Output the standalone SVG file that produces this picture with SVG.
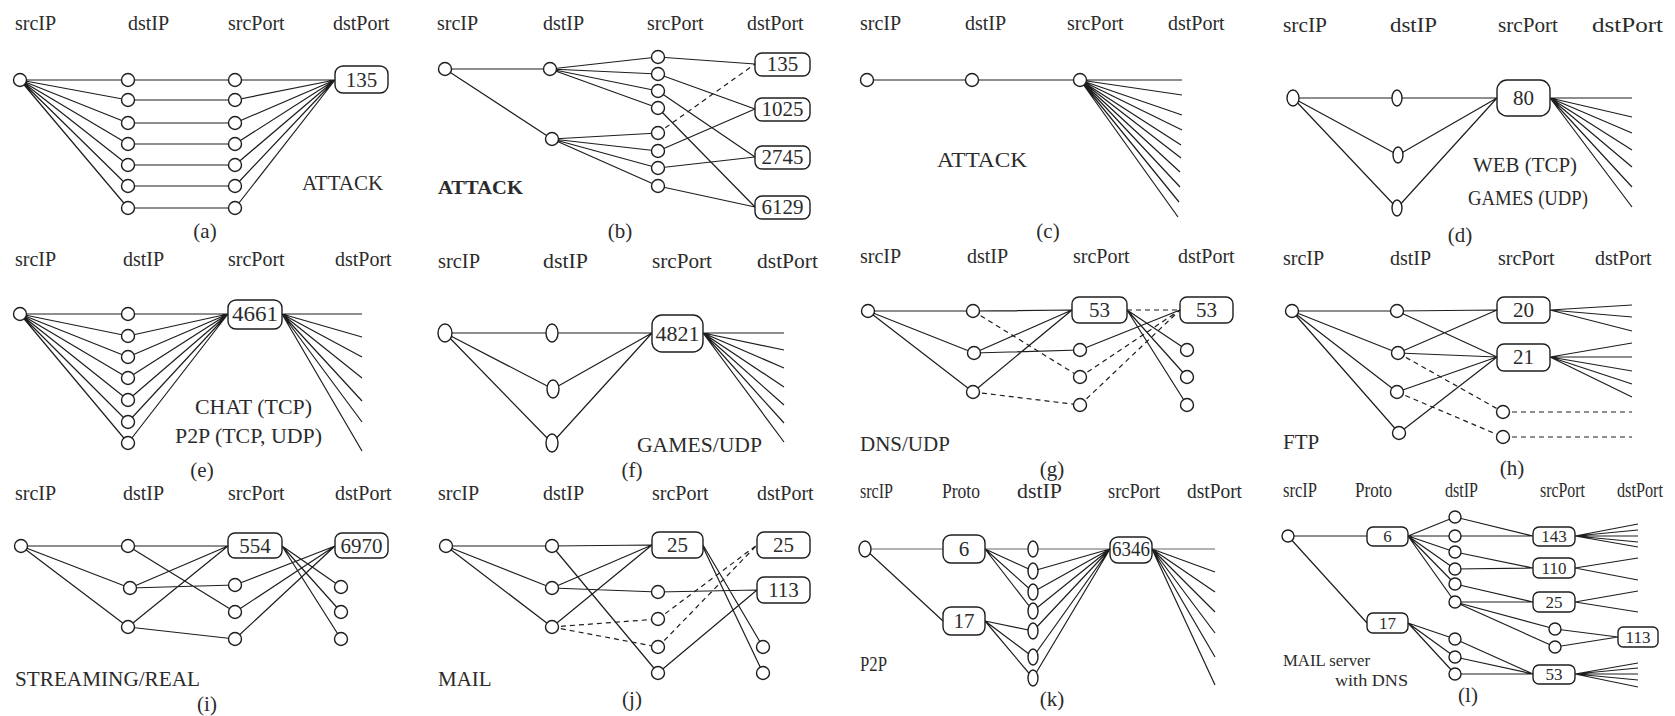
<svg xmlns="http://www.w3.org/2000/svg" width="1675" height="716" viewBox="0 0 1675 716">
<style>
text{font-family:"Liberation Serif","Times New Roman",serif;fill:#2b2b2b}
.h{font-size:20px}
.lb{font-size:21px}
.cap{font-size:21px;text-anchor:middle}
.bt{font-size:21px;text-anchor:middle}
.sm{font-size:17px;text-anchor:middle}
.s{stroke:#1e1e1e;stroke-width:1.2;fill:none}
.g{stroke:#999;stroke-width:1.3;fill:none}
.d{stroke:#1e1e1e;stroke-width:1.2;fill:none;stroke-dasharray:5 4}
.n{fill:#fff;stroke:#1e1e1e;stroke-width:1.4}
.bx{fill:#fff;stroke:#1e1e1e;stroke-width:1.4}
</style>
<rect width="1675" height="716" fill="#fff"/>

<g id="connectors">
 <g id="edges-a">
  <path class="s" d="M20 80L128 80M20 80L128 100M20 80L128 123M20 80L128 144M20 80L128 165M20 80L128 186M20 80L128 208M128 80H235M128 100H235M128 123H235M128 144H235M128 165H235M128 186H235M128 208H235M235 80H335M235 100L335 80M235 123L335 80M235 144L335 80M235 165L335 80M235 186L335 80M235 208L335 80"/>
 </g>
 <g id="edges-b">
  <path class="s" d="M445 69L550 69M445 69L552 139M550 69L658 57M550 69L658 74M550 69L658 91M550 69L658 108M552 139L658 133M552 139L658 151M552 139L658 168M552 139L658 186M658 57L755 64M658 74L755 109M658 91L755 157M658 108L755 207M658 151L755 109M658 168L755 157M658 186L755 207"/>
  <path class="d" d="M658 133L755 64"/>
 </g>
 <g id="edges-c">
  <path class="s" d="M867 80H1080M1080 80L1182 80M1080 80L1182 95M1080 80L1182 115M1080 80L1182 130M1080 80L1181 145M1080 80L1181 158M1080 80L1180 172M1080 80L1180 187M1080 80L1179 202M1080 80L1178 217"/>
 </g>
 <g id="edges-d">
  <path class="s" d="M1293 98L1397 98M1293 98L1398 155M1293 98L1397 208M1397 98L1497 98M1398 155L1497 98M1397 208L1497 98M1550 98L1632 98M1550 98L1632 117M1550 98L1632 133M1550 98L1632 150M1550 98L1632 167M1550 98L1632 187M1550 98L1632 207"/>
 </g>
 <g id="edges-e">
  <path class="s" d="M20 314L128 314M20 314L128 336M20 314L128 357M20 314L128 378M20 314L128 400M20 314L128 422M20 314L128 443M128 314L228 314M128 336L228 314M128 357L228 314M128 378L228 314M128 400L228 314M128 422L228 314M128 443L228 314M282 314L362 314M282 314L362 337M282 314L362 357M282 314L362 378M282 314L362 401M282 314L362 422M282 314L362 451"/>
 </g>
 <g id="edges-f">
  <path class="s" d="M445 333L552 333M445 333L553 389M445 333L552 443M552 333L652 333M553 389L652 333M552 443L652 333M703 333L784 333M703 333L784 350M703 333L784 368M703 333L784 387M703 333L784 405M703 333L784 423M703 333L784 442"/>
 </g>
 <g id="edges-g">
  <path class="s" d="M868 311L973 311M868 311L974 353M868 311L973 392M973 311L1072 310M974 353L1072 310M974 353L1080 350M973 392L1072 310M1080 350L1180 310M1127 310L1187 350M1127 310L1187 377M1127 310L1187 405"/>
  <path class="d" d="M973 311L1080 377M973 392L1080 405M1127 310L1180 310M1080 377L1180 310M1080 405L1180 310"/>
 </g>
 <g id="edges-h">
  <path class="s" d="M1292 311L1397 311M1292 311L1398 353M1292 311L1397 392M1292 311L1399 433M1397 311L1497 310M1397 311L1497 357M1398 353L1497 310M1398 353L1497 357M1397 392L1497 357M1399 433L1497 357M1550 310L1632 305M1550 310L1632 317M1550 310L1632 331M1550 357L1632 343M1550 357L1632 357M1550 357L1632 371M1550 357L1632 384M1550 357L1632 397"/>
  <path class="d" d="M1398 353L1503 412M1397 392L1503 437M1503 412H1632M1503 437H1632"/>
 </g>
 <g id="edges-i">
  <path class="s" d="M21 546L128 546M21 546L130 588M21 546L128 627M128 546L228 546M128 546L235 612M130 588L228 546M130 588L235 585M128 627L228 546M128 627L235 639M235 585L335 546M235 612L335 546M235 639L335 546M282 546L341 587M282 546L341 612M282 546L341 639"/>
 </g>
 <g id="edges-j">
  <path class="s" d="M446 546L552 546M446 546L552 588M446 546L552 627M552 546L652 545M552 546L658 673M552 588L652 545M552 588L658 592M552 627L652 545M658 592L757 590M658 673L757 590M703 545L763 647M703 547L763 673"/>
  <path class="d" d="M552 627L658 619M552 627L658 647M658 619L757 545M658 647L757 545"/>
 </g>
 <g id="edges-k">
  <path class="g" d="M865 549L943 549M985 549L1033 549M1033 549L1110 549M1152 549L1215 549"/>
  <path class="s" d="M865 549L943 621M985 549L1033 571M985 549L1033 592M985 549L1033 611M985 621L1033 631M985 621L1033 657M985 621L1033 678M1033 571L1110 549M1033 592L1110 549M1033 611L1110 549M1033 631L1110 549M1033 657L1110 549M1033 678L1110 549M1152 549L1215 572M1152 549L1215 592M1152 549L1215 612M1152 549L1215 633M1152 549L1215 657M1152 549L1215 685"/>
 </g>
 <g id="edges-l">
  <path class="s" d="M1288 536L1367 536M1288 536L1367 623M1408 536L1455 517M1408 536L1455 536M1408 536L1455 552M1408 536L1455 569M1408 536L1455 584M1408 536L1455 602M1408 623L1455 639M1408 623L1455 657M1408 623L1455 674M1455 517L1533 536M1455 536L1533 536M1455 552L1533 568M1455 569L1533 568M1455 584L1533 602M1455 602L1533 602M1455 602L1555 629M1455 602L1555 647M1555 629L1618 637M1555 647L1618 637M1455 639L1533 674M1455 657L1533 674M1455 674L1533 674M1575 536L1638 524M1575 536L1638 530M1575 536L1638 536M1575 536L1638 542M1575 536L1638 547M1575 568L1638 558M1575 568L1638 580M1575 602L1638 591M1575 602L1638 612M1575 674L1638 663M1575 674L1638 668M1575 674L1638 674M1575 674L1638 680M1575 674L1638 687"/>
 </g>
</g>

<!-- Panel a -->
<g id="panel-a">
 <text class="h" x="15" y="30">srcIP</text><text class="h" x="128" y="30">dstIP</text><text class="h" x="228" y="30">srcPort</text><text class="h" x="333" y="30">dstPort</text>
 <g id="a-src"><circle class="n" cx="20" cy="80" r="6.5"/></g>
 <g id="a-d1"><circle class="n" cx="128" cy="80" r="6.5"/></g>
 <g id="a-d2"><circle class="n" cx="128" cy="100" r="6.5"/></g>
 <g id="a-d3"><circle class="n" cx="128" cy="123" r="6.5"/></g>
 <g id="a-d4"><circle class="n" cx="128" cy="144" r="6.5"/></g>
 <g id="a-d5"><circle class="n" cx="128" cy="165" r="6.5"/></g>
 <g id="a-d6"><circle class="n" cx="128" cy="186" r="6.5"/></g>
 <g id="a-d7"><circle class="n" cx="128" cy="208" r="6.5"/></g>
 <g id="a-p1"><circle class="n" cx="235" cy="80" r="6.5"/></g>
 <g id="a-p2"><circle class="n" cx="235" cy="100" r="6.5"/></g>
 <g id="a-p3"><circle class="n" cx="235" cy="123" r="6.5"/></g>
 <g id="a-p4"><circle class="n" cx="235" cy="144" r="6.5"/></g>
 <g id="a-p5"><circle class="n" cx="235" cy="165" r="6.5"/></g>
 <g id="a-p6"><circle class="n" cx="235" cy="186" r="6.5"/></g>
 <g id="a-p7"><circle class="n" cx="235" cy="208" r="6.5"/></g>
 <g id="a-135"><rect class="bx" x="335" y="66" width="53" height="27" rx="8"/><text class="bt" x="361.5" y="87">135</text></g>
 <text class="lb" x="302" y="190">ATTACK</text>
 <text class="cap" x="205" y="238">(a)</text>
</g>

<!-- Panel b -->
<g id="panel-b">
 <text class="h" x="437" y="30">srcIP</text><text class="h" x="543" y="30">dstIP</text><text class="h" x="647" y="30">srcPort</text><text class="h" x="747" y="30">dstPort</text>
 <g id="b-src"><circle class="n" cx="445" cy="69" r="6.5"/></g>
 <g id="b-d1"><circle class="n" cx="550" cy="69" r="6.5"/></g>
 <g id="b-d2"><circle class="n" cx="552" cy="139" r="6.5"/></g>
 <g id="b-p1"><circle class="n" cx="658" cy="57" r="6.5"/></g>
 <g id="b-p2"><circle class="n" cx="658" cy="74" r="6.5"/></g>
 <g id="b-p3"><circle class="n" cx="658" cy="91" r="6.5"/></g>
 <g id="b-p4"><circle class="n" cx="658" cy="108" r="6.5"/></g>
 <g id="b-p5"><circle class="n" cx="658" cy="133" r="6.5"/></g>
 <g id="b-p6"><circle class="n" cx="658" cy="151" r="6.5"/></g>
 <g id="b-p7"><circle class="n" cx="658" cy="168" r="6.5"/></g>
 <g id="b-p8"><circle class="n" cx="658" cy="186" r="6.5"/></g>
 <g id="b-135"><rect class="bx" x="755" y="53" width="55" height="23" rx="7"/><text class="bt" x="782.5" y="71">135</text></g>
 <g id="b-1025"><rect class="bx" x="755" y="98" width="55" height="23" rx="7"/><text class="bt" x="782.5" y="116">1025</text></g>
 <g id="b-2745"><rect class="bx" x="755" y="146" width="55" height="23" rx="7"/><text class="bt" x="782.5" y="164">2745</text></g>
 <g id="b-6129"><rect class="bx" x="755" y="196" width="55" height="23" rx="7"/><text class="bt" x="782.5" y="214">6129</text></g>
 <text x="438" y="194" font-size="18" font-weight="bold" textLength="85" lengthAdjust="spacingAndGlyphs">ATTACK</text>
 <text class="cap" x="620" y="238">(b)</text>
</g>

<!-- Panel c -->
<g id="panel-c">
 <text class="h" x="860" y="30">srcIP</text><text class="h" x="965" y="30">dstIP</text><text class="h" x="1067" y="30">srcPort</text><text class="h" x="1168" y="30">dstPort</text>
 <g id="c-src"><circle class="n" cx="867" cy="80" r="6.5"/></g>
 <g id="c-d1"><circle class="n" cx="972" cy="80" r="6.5"/></g>
 <g id="c-p1"><circle class="n" cx="1080" cy="80" r="6.5"/></g>
 <text class="lb" x="937" y="167" font-size="22" textLength="90" lengthAdjust="spacingAndGlyphs">ATTACK</text>
 <text class="cap" x="1048" y="238">(c)</text>
</g>

<!-- Panel d -->
<g id="panel-d">
 <text class="h" x="1283" y="32" font-size="22" textLength="44" lengthAdjust="spacingAndGlyphs">srcIP</text><text class="h" x="1390" y="32" font-size="22" textLength="47" lengthAdjust="spacingAndGlyphs">dstIP</text><text class="h" x="1498" y="32" font-size="22" textLength="60" lengthAdjust="spacingAndGlyphs">srcPort</text><text class="h" x="1592" y="32" font-size="22" textLength="71" lengthAdjust="spacingAndGlyphs">dstPort</text>
 <g id="d-src"><ellipse class="n" cx="1293" cy="98" rx="6" ry="8"/></g>
 <g id="d-d1"><ellipse class="n" cx="1397" cy="98" rx="5" ry="8"/></g>
 <g id="d-d2"><ellipse class="n" cx="1398" cy="155" rx="5" ry="8"/></g>
 <g id="d-d3"><ellipse class="n" cx="1397" cy="208" rx="5" ry="8"/></g>
 <g id="d-80"><rect class="bx" x="1497" y="80" width="53" height="36" rx="10"/><text class="bt" x="1523.5" y="105">80</text></g>
 <text class="lb" x="1473" y="172" font-size="22" textLength="104" lengthAdjust="spacingAndGlyphs">WEB (TCP)</text>
 <text class="lb" x="1468" y="205" font-size="22" textLength="120" lengthAdjust="spacingAndGlyphs">GAMES (UDP)</text>
 <text class="cap" x="1460" y="242">(d)</text>
</g>

<!-- Panel e -->
<g id="panel-e">
 <text class="h" x="15" y="266">srcIP</text><text class="h" x="123" y="266">dstIP</text><text class="h" x="228" y="266">srcPort</text><text class="h" x="335" y="266">dstPort</text>
 <g id="e-src"><circle class="n" cx="20" cy="314" r="6.5"/></g>
 <g id="e-d1"><circle class="n" cx="128" cy="314" r="6.5"/></g>
 <g id="e-d2"><circle class="n" cx="128" cy="336" r="6.5"/></g>
 <g id="e-d3"><circle class="n" cx="128" cy="357" r="6.5"/></g>
 <g id="e-d4"><circle class="n" cx="128" cy="378" r="6.5"/></g>
 <g id="e-d5"><circle class="n" cx="128" cy="400" r="6.5"/></g>
 <g id="e-d6"><circle class="n" cx="128" cy="422" r="6.5"/></g>
 <g id="e-d7"><circle class="n" cx="128" cy="443" r="6.5"/></g>
 <g id="e-4661"><rect class="bx" x="228" y="300" width="54" height="29" rx="8"/><text class="bt" x="255" y="321" textLength="46" lengthAdjust="spacingAndGlyphs">4661</text></g>
 <text class="lb" x="195" y="414" font-size="22" textLength="117" lengthAdjust="spacingAndGlyphs">CHAT (TCP)</text>
 <text class="lb" x="175" y="443" font-size="22" textLength="147" lengthAdjust="spacingAndGlyphs">P2P (TCP, UDP)</text>
 <text class="cap" x="202" y="477">(e)</text>
</g>

<!-- Panel f -->
<g id="panel-f">
 <text class="h" x="438" y="268" font-size="22" textLength="42" lengthAdjust="spacingAndGlyphs">srcIP</text><text class="h" x="543" y="268" font-size="22" textLength="45" lengthAdjust="spacingAndGlyphs">dstIP</text><text class="h" x="652" y="268" font-size="22" textLength="60" lengthAdjust="spacingAndGlyphs">srcPort</text><text class="h" x="757" y="268" font-size="22" textLength="61" lengthAdjust="spacingAndGlyphs">dstPort</text>
 <g id="f-src"><ellipse class="n" cx="445" cy="333" rx="7" ry="9"/></g>
 <g id="f-d1"><ellipse class="n" cx="552" cy="333" rx="6" ry="9"/></g>
 <g id="f-d2"><ellipse class="n" cx="553" cy="389" rx="6" ry="9"/></g>
 <g id="f-d3"><ellipse class="n" cx="552" cy="443" rx="6" ry="9"/></g>
 <g id="f-4821"><rect class="bx" x="652" y="315" width="51" height="37" rx="10"/><text class="bt" x="677.5" y="341" font-size="22" textLength="44" lengthAdjust="spacingAndGlyphs">4821</text></g>
 <text class="lb" x="637" y="452" font-size="22" textLength="125" lengthAdjust="spacingAndGlyphs">GAMES/UDP</text>
 <text class="cap" x="632" y="477">(f)</text>
</g>

<!-- Panel g -->
<g id="panel-g">
 <text class="h" x="860" y="263">srcIP</text><text class="h" x="967" y="263">dstIP</text><text class="h" x="1073" y="263">srcPort</text><text class="h" x="1178" y="263">dstPort</text>
 <g id="g-src"><circle class="n" cx="868" cy="311" r="6.5"/></g>
 <g id="g-d1"><circle class="n" cx="973" cy="311" r="6.5"/></g>
 <g id="g-d2"><circle class="n" cx="974" cy="353" r="6.5"/></g>
 <g id="g-d3"><circle class="n" cx="973" cy="392" r="6.5"/></g>
 <g id="g-sp53"><rect class="bx" x="1072" y="297" width="55" height="26" rx="7"/><text class="bt" x="1099.5" y="317">53</text></g>
 <g id="g-p1"><circle class="n" cx="1080" cy="350" r="6.5"/></g>
 <g id="g-p2"><circle class="n" cx="1080" cy="377" r="6.5"/></g>
 <g id="g-p3"><circle class="n" cx="1080" cy="405" r="6.5"/></g>
 <g id="g-dp53"><rect class="bx" x="1180" y="297" width="53" height="26" rx="7"/><text class="bt" x="1206.5" y="317">53</text></g>
 <g id="g-q1"><circle class="n" cx="1187" cy="350" r="6.5"/></g>
 <g id="g-q2"><circle class="n" cx="1187" cy="377" r="6.5"/></g>
 <g id="g-q3"><circle class="n" cx="1187" cy="405" r="6.5"/></g>
 <text class="lb" x="860" y="451">DNS/UDP</text>
 <text class="cap" x="1052" y="476">(g)</text>
</g>

<!-- Panel h -->
<g id="panel-h">
 <text class="h" x="1283" y="265">srcIP</text><text class="h" x="1390" y="265">dstIP</text><text class="h" x="1498" y="265">srcPort</text><text class="h" x="1595" y="265">dstPort</text>
 <g id="h-src"><circle class="n" cx="1292" cy="311" r="6.5"/></g>
 <g id="h-d1"><circle class="n" cx="1397" cy="311" r="6.5"/></g>
 <g id="h-d2"><circle class="n" cx="1398" cy="353" r="6.5"/></g>
 <g id="h-d3"><circle class="n" cx="1397" cy="392" r="6.5"/></g>
 <g id="h-d4"><circle class="n" cx="1399" cy="433" r="6.5"/></g>
 <g id="h-20"><rect class="bx" x="1497" y="297" width="53" height="26" rx="7"/><text class="bt" x="1523.5" y="317">20</text></g>
 <g id="h-21"><rect class="bx" x="1497" y="344" width="53" height="27" rx="7"/><text class="bt" x="1523.5" y="364">21</text></g>
 <g id="h-p1"><circle class="n" cx="1503" cy="412" r="6.5"/></g>
 <g id="h-p2"><circle class="n" cx="1503" cy="437" r="6.5"/></g>
 <text class="lb" x="1283" y="449">FTP</text>
 <text class="cap" x="1512" y="475">(h)</text>
</g>

<!-- Panel i -->
<g id="panel-i">
 <text class="h" x="15" y="500">srcIP</text><text class="h" x="123" y="500">dstIP</text><text class="h" x="228" y="500">srcPort</text><text class="h" x="335" y="500">dstPort</text>
 <g id="i-src"><circle class="n" cx="21" cy="546" r="6.5"/></g>
 <g id="i-d1"><circle class="n" cx="128" cy="546" r="6.5"/></g>
 <g id="i-d2"><circle class="n" cx="130" cy="588" r="6.5"/></g>
 <g id="i-d3"><circle class="n" cx="128" cy="627" r="6.5"/></g>
 <g id="i-554"><rect class="bx" x="228" y="533" width="54" height="25" rx="7"/><text class="bt" x="255" y="553">554</text></g>
 <g id="i-p1"><circle class="n" cx="235" cy="585" r="6.5"/></g>
 <g id="i-p2"><circle class="n" cx="235" cy="612" r="6.5"/></g>
 <g id="i-p3"><circle class="n" cx="235" cy="639" r="6.5"/></g>
 <g id="i-6970"><rect class="bx" x="335" y="533" width="53" height="25" rx="7"/><text class="bt" x="361.5" y="553">6970</text></g>
 <g id="i-q1"><circle class="n" cx="341" cy="587" r="6.5"/></g>
 <g id="i-q2"><circle class="n" cx="341" cy="612" r="6.5"/></g>
 <g id="i-q3"><circle class="n" cx="341" cy="639" r="6.5"/></g>
 <text class="lb" x="15" y="686" textLength="185" lengthAdjust="spacingAndGlyphs">STREAMING/REAL</text>
 <text class="cap" x="207" y="711">(i)</text>
</g>

<!-- Panel j -->
<g id="panel-j">
 <text class="h" x="438" y="500">srcIP</text><text class="h" x="543" y="500">dstIP</text><text class="h" x="652" y="500">srcPort</text><text class="h" x="757" y="500">dstPort</text>
 <g id="j-src"><circle class="n" cx="446" cy="546" r="6.5"/></g>
 <g id="j-d1"><circle class="n" cx="552" cy="546" r="6.5"/></g>
 <g id="j-d2"><circle class="n" cx="552" cy="588" r="6.5"/></g>
 <g id="j-d3"><circle class="n" cx="552" cy="627" r="6.5"/></g>
 <g id="j-sp25"><rect class="bx" x="652" y="532" width="51" height="26" rx="7"/><text class="bt" x="677.5" y="552">25</text></g>
 <g id="j-p1"><circle class="n" cx="658" cy="592" r="6.5"/></g>
 <g id="j-p2"><circle class="n" cx="658" cy="619" r="6.5"/></g>
 <g id="j-p3"><circle class="n" cx="658" cy="647" r="6.5"/></g>
 <g id="j-p4"><circle class="n" cx="658" cy="673" r="6.5"/></g>
 <g id="j-dp25"><rect class="bx" x="757" y="532" width="53" height="26" rx="7"/><text class="bt" x="783.5" y="552">25</text></g>
 <g id="j-113"><rect class="bx" x="757" y="577" width="53" height="26" rx="7"/><text class="bt" x="783.5" y="597">113</text></g>
 <g id="j-q1"><circle class="n" cx="763" cy="647" r="6.5"/></g>
 <g id="j-q2"><circle class="n" cx="763" cy="673" r="6.5"/></g>
 <text class="lb" x="438" y="686">MAIL</text>
 <text class="cap" x="632" y="706">(j)</text>
</g>

<!-- Panel k -->
<g id="panel-k">
 <text class="h" x="860" y="498" font-size="19" textLength="33" lengthAdjust="spacingAndGlyphs">srcIP</text><text class="h" x="942" y="498" font-size="19" textLength="38" lengthAdjust="spacingAndGlyphs">Proto</text><text class="h" x="1017" y="498" font-size="19" textLength="45" lengthAdjust="spacingAndGlyphs">dstIP</text><text class="h" x="1108" y="498" font-size="19" textLength="52" lengthAdjust="spacingAndGlyphs">srcPort</text><text class="h" x="1187" y="498" font-size="19" textLength="55" lengthAdjust="spacingAndGlyphs">dstPort</text>
 <g id="k-src"><ellipse class="n" cx="865" cy="549" rx="6" ry="8"/></g>
 <g id="k-6"><rect class="bx" x="943" y="535" width="42" height="28" rx="8"/><text class="bt" x="964" y="556" font-size="19">6</text></g>
 <g id="k-17"><rect class="bx" x="943" y="607" width="42" height="28" rx="8"/><text class="bt" x="964" y="628" font-size="19">17</text></g>
 <g id="k-d1"><ellipse class="n" cx="1033" cy="549" rx="5" ry="8"/></g>
 <g id="k-d2"><ellipse class="n" cx="1033" cy="571" rx="5" ry="8"/></g>
 <g id="k-d3"><ellipse class="n" cx="1033" cy="592" rx="5" ry="8"/></g>
 <g id="k-d4"><ellipse class="n" cx="1033" cy="611" rx="5" ry="8"/></g>
 <g id="k-d5"><ellipse class="n" cx="1033" cy="631" rx="5" ry="8"/></g>
 <g id="k-d6"><ellipse class="n" cx="1033" cy="657" rx="5" ry="8"/></g>
 <g id="k-d7"><ellipse class="n" cx="1033" cy="678" rx="5" ry="8"/></g>
 <g id="k-6346"><rect class="bx" x="1110" y="537" width="42" height="26" rx="8"/><text class="bt" x="1131" y="556" font-size="19" textLength="38" lengthAdjust="spacingAndGlyphs">6346</text></g>
 <text class="lb" x="860" y="671" font-size="19" textLength="27" lengthAdjust="spacingAndGlyphs">P2P</text>
 <text class="cap" x="1052" y="706">(k)</text>
</g>

<!-- Panel l -->
<g id="panel-l">
 <text class="h" x="1283" y="497" font-size="16" textLength="34" lengthAdjust="spacingAndGlyphs">srcIP</text><text class="h" x="1355" y="497" font-size="16" textLength="37" lengthAdjust="spacingAndGlyphs">Proto</text><text class="h" x="1445" y="497" font-size="16" textLength="33" lengthAdjust="spacingAndGlyphs">dstIP</text><text class="h" x="1540" y="497" font-size="16" textLength="45" lengthAdjust="spacingAndGlyphs">srcPort</text><text class="h" x="1617" y="497" font-size="16" textLength="46" lengthAdjust="spacingAndGlyphs">dstPort</text>
 <g id="l-src"><circle class="n" cx="1288" cy="536" r="6"/></g>
 <g id="l-6"><rect class="bx" x="1367" y="527" width="41" height="19" rx="6"/><text class="sm" x="1387.5" y="542">6</text></g>
 <g id="l-17"><rect class="bx" x="1367" y="613" width="41" height="20" rx="6"/><text class="sm" x="1387.5" y="629">17</text></g>
 <g id="l-d1"><circle class="n" cx="1455" cy="517" r="6"/></g>
 <g id="l-d2"><circle class="n" cx="1455" cy="536" r="6"/></g>
 <g id="l-d3"><circle class="n" cx="1455" cy="552" r="6"/></g>
 <g id="l-d4"><circle class="n" cx="1455" cy="569" r="6"/></g>
 <g id="l-d5"><circle class="n" cx="1455" cy="584" r="6"/></g>
 <g id="l-d6"><circle class="n" cx="1455" cy="602" r="6"/></g>
 <g id="l-d7"><circle class="n" cx="1455" cy="639" r="6"/></g>
 <g id="l-d8"><circle class="n" cx="1455" cy="657" r="6"/></g>
 <g id="l-d9"><circle class="n" cx="1455" cy="674" r="6"/></g>
 <g id="l-143"><rect class="bx" x="1533" y="527" width="42" height="19" rx="6"/><text class="sm" x="1554" y="542">143</text></g>
 <g id="l-110"><rect class="bx" x="1533" y="558" width="42" height="20" rx="6"/><text class="sm" x="1554" y="574">110</text></g>
 <g id="l-25"><rect class="bx" x="1533" y="592" width="42" height="20" rx="6"/><text class="sm" x="1554" y="608">25</text></g>
 <g id="l-p1"><circle class="n" cx="1555" cy="629" r="6"/></g>
 <g id="l-p2"><circle class="n" cx="1555" cy="647" r="6"/></g>
 <g id="l-113"><rect class="bx" x="1618" y="627" width="40" height="20" rx="5"/><text class="sm" x="1638" y="643">113</text></g>
 <g id="l-53"><rect class="bx" x="1533" y="665" width="42" height="19" rx="6"/><text class="sm" x="1554" y="680">53</text></g>
 <text x="1283" y="666" font-size="17" textLength="87" lengthAdjust="spacingAndGlyphs">MAIL server</text>
 <text x="1335" y="686" font-size="17" textLength="73" lengthAdjust="spacingAndGlyphs">with DNS</text>
 <text class="cap" x="1468" y="702">(l)</text>
</g>
</svg>
